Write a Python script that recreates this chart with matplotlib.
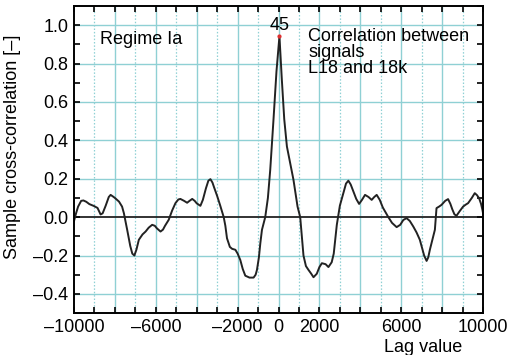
import matplotlib
matplotlib.use("Agg")
import matplotlib.pyplot as plt
from matplotlib.ticker import MultipleLocator, FixedLocator, FixedFormatter

plt.rcParams['font.family'] = ['Liberation Sans', 'DejaVu Sans']

# lag values and sample cross-correlation
lag = [-10000, -9900, -9800, -9650, -9540, -9400, -9250, -9025, -8850, -8700, -8600,
       -8450, -8300, -8210, -8100, -8000, -7800, -7650, -7560, -7400, -7250, -7150,
       -7050, -6950, -6830, -6650, -6500, -6350, -6180, -6050, -5950, -5770, -5650,
       -5550, -5370, -5200, -5040, -4900, -4800, -4620, -4470, -4350, -4220, -4100,
       -4000, -3820, -3700, -3550, -3430, -3330, -3230, -3150, -3000, -2850, -2680,
       -2600, -2520, -2380, -2270, -2110, -2000, -1870, -1750, -1625, -1420, -1220,
       -1120, -1055, -960, -890, -810, -650, -520, -405, -245, -100, 45, 160, 280,
       410, 570, 730, 930, 1060, 1140, 1220, 1340, 1465, 1600, 1710, 1870, 2000, 2120,
       2300, 2440, 2600, 2700, 2770, 2850, 3000, 3170, 3300, 3415, 3530, 3660, 3800,
       3940, 4080, 4230, 4400, 4555, 4680, 4800, 4950, 5100, 5370, 5550, 5775, 5950,
       6100, 6260, 6420, 6590, 6750, 6910, 7000, 7120, 7240, 7320, 7400, 7520, 7645,
       7725, 7850, 7970, 8150, 8290, 8400, 8500, 8600, 8700, 8850, 9025, 9150, 9270,
       9450, 9595, 9700, 9805, 9900, 9970, 10000]
corr = [-0.02, 0.02, 0.055, 0.085, 0.087, 0.08, 0.068, 0.058, 0.048, 0.014, 0.02,
        0.06, 0.105, 0.116, 0.108, 0.1, 0.081, 0.055, 0.02, -0.066, -0.15, -0.19,
        -0.2, -0.17, -0.118, -0.09, -0.075, -0.055, -0.04, -0.045, -0.058, -0.075,
        -0.065, -0.045, -0.014, 0.035, 0.073, 0.092, 0.095, 0.085, 0.075, 0.085, 0.095,
        0.085, 0.072, 0.059, 0.09, 0.15, 0.19, 0.198, 0.18, 0.155, 0.11, 0.06, 0.0,
        -0.045, -0.11, -0.155, -0.165, -0.17, -0.19, -0.223, -0.27, -0.305, -0.315,
        -0.315, -0.3, -0.275, -0.21, -0.136, -0.066, 0.0, 0.1, 0.247, 0.51, 0.76,
        0.943, 0.72, 0.51, 0.368, 0.28, 0.195, 0.055, 0.0, -0.1, -0.2, -0.255, -0.275,
        -0.295, -0.313, -0.295, -0.26, -0.24, -0.245, -0.26, -0.235, -0.19, -0.118,
        -0.04, 0.06, 0.125, 0.175, 0.19, 0.17, 0.134, 0.095, 0.069, 0.09, 0.116,
        0.105, 0.09, 0.105, 0.116, 0.09, 0.05, 0.0, -0.03, -0.052, -0.04, -0.015,
        -0.005, -0.02, -0.049, -0.08, -0.118, -0.153, -0.2, -0.228, -0.21, -0.17,
        -0.12, -0.066, 0.047, 0.055, 0.064, 0.085, 0.094, 0.07, 0.04, 0.015, 0.007,
        0.03, 0.055, 0.065, 0.073, 0.1, 0.125, 0.115, 0.099, 0.07, 0.038, 0.02]

peak_lag = 45
peak_val = 0.943

x_labels_at = [-10000, -6000, -2000, 0, 2000, 6000, 10000]
y_major = [-0.4, -0.2, 0.0, 0.2, 0.4, 0.6, 0.8, 1.0]

grid_col = '#8fd0d4'
fs = 13

fig = plt.figure(figsize=(5.09, 3.55), dpi=100)
ax = fig.add_axes([0.1454, 0.118, 0.8036, 0.865])

# grid: solid every 2000 / 0.2, dotted at odd thousands
for xv in range(-8000, 10000, 2000):
    ax.axvline(xv, color=grid_col, lw=1.0, zorder=0)
for xv in range(-9000, 10000, 2000):
    ax.axvline(xv, color=grid_col, lw=0.9, ls=(0, (1.2, 1.5)), zorder=0)
for yv in y_major:
    if yv != 0.0:
        ax.axhline(yv, color=grid_col, lw=1.0, zorder=0)
ax.axhline(0.0, color='#222222', lw=1.3, zorder=1)

ax.plot(lag, corr, color='#222222', lw=1.4, zorder=2)
ax.plot([peak_lag], [peak_val], 'o', color='#e03030', ms=2, zorder=3)
ax.text(peak_lag, 0.998, str(peak_lag), ha='center', va='center', fontsize=fs)

ax.set_xlim(-10000, 10000)
ax.set_ylim(-0.5, 1.1)

xt = list(range(-10000, 10001, 2000))
ax.xaxis.set_major_locator(FixedLocator(xt))
ax.xaxis.set_major_formatter(FixedFormatter(
    [f"{v}".replace('-', '\u2013') if v in x_labels_at else '' for v in xt]))
ax.xaxis.set_minor_locator(MultipleLocator(1000))
ax.yaxis.set_major_locator(FixedLocator(y_major))
ax.yaxis.set_major_formatter(FixedFormatter(
    [f"{v:.1f}".replace('-', '\u2013') for v in y_major]))
ax.yaxis.set_minor_locator(MultipleLocator(0.1))
ax.tick_params(which='both', direction='in', top=True, right=True,
               length=4, width=1.2, labelsize=fs, pad=4)

for s in ax.spines.values():
    s.set_linewidth(1.4)

ax.set_ylabel('Sample cross-correlation [\u2013]', fontsize=fs)
ax.yaxis.set_label_coords(-0.13, 0.54)
ax.text(0.853, -0.085, 'Lag value', transform=ax.transAxes, ha='center', va='top',
        fontsize=fs)

ax.text(-8730, 0.925, 'Regime Ia', ha='left', va='center', fontsize=fs)
ax.text(1450, 0.858, 'Correlation between\nsignals\nL18 and 18k', ha='left',
        va='center', fontsize=fs, linespacing=0.95)

fig.savefig('out.png', dpi=100)
